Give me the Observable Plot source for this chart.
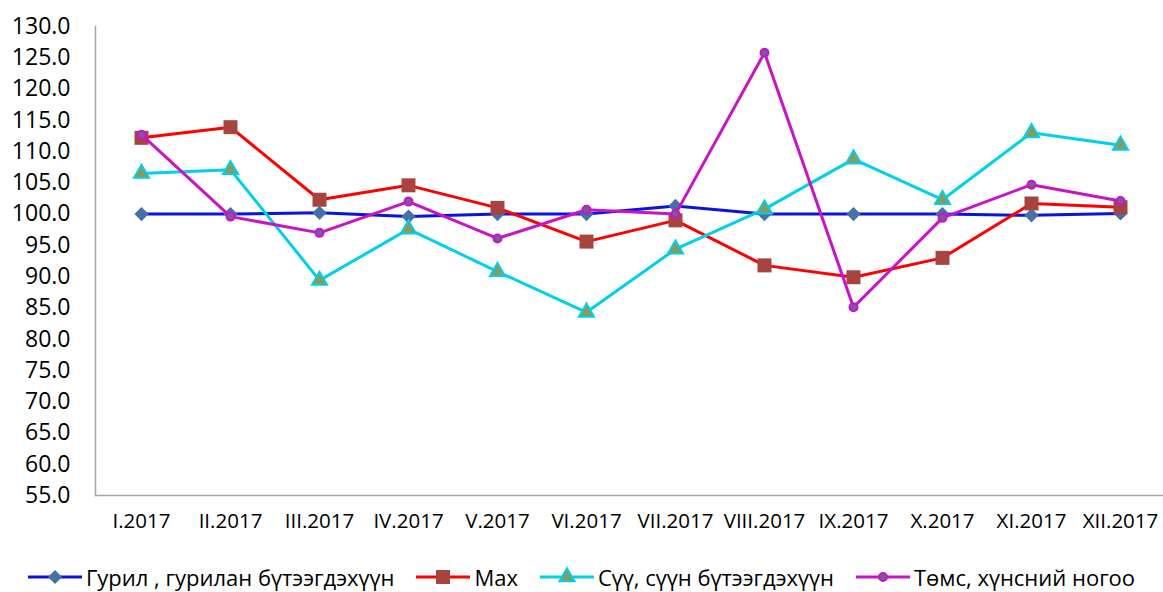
<!DOCTYPE html>
<html>
<head>
<meta charset="utf-8">
<script src="https://cdn.jsdelivr.net/npm/d3@7"></script>
<script src="https://cdn.jsdelivr.net/npm/@observablehq/plot@0.6"></script>
<style>
  body { margin: 0; background: #fff; font-family: "Open Sans", sans-serif; overflow: hidden; }
  #legend { display: flex; justify-content: center; align-items: center; margin-top: 17px; font-size: 22px; line-height: normal; color: #000; white-space: nowrap; }
  .item { display: flex; align-items: center; flex-shrink: 0; margin: 0 11px; }
  .item svg { margin-right: 4px; flex-shrink: 0; }
</style>
</head>
<body>
<div id="chart"></div>
<div id="legend"></div>
<script>
const months = ["I.2017","II.2017","III.2017","IV.2017","V.2017","VI.2017","VII.2017","VIII.2017","IX.2017","X.2017","XI.2017","XII.2017"];
const seriesNames = ["Гурил , гурилан бүтээгдэхүүн", "Мах", "Сүү, сүүн бүтээгдэхүүн", "Төмс, хүнсний ногоо"];
const flour = [100.0, 100.0, 100.2, 99.6, 100.0, 100.0, 101.3, 100.0, 100.0, 100.0, 99.8, 100.1];
const meat = [112.2, 113.9, 102.3, 104.6, 101.0, 95.6, 99.0, 91.8, 89.9, 93.0, 101.7, 101.1];
const milk = [106.5, 107.1, 89.4, 97.6, 90.8, 84.3, 94.4, 100.8, 108.8, 102.3, 113.0, 111.0];
const potato = [112.7, 99.6, 97.0, 102.0, 96.1, 100.7, 100.0, 125.8, 85.1, 99.4, 104.7, 102.1];
const yTicks = [55,60,65,70,75,80,85,90,95,100,105,110,115,120,125,130];

const styles = [
  {line: "#0a14dc", symbol: "diamond2", fill: "#4472a8", stroke: "none", r: 6.4, sw: 0},
  {line: "#ff0000", symbol: "square", fill: "#a8443f", stroke: "none", r: 7.9, sw: 0},
  {line: "#00d0ec", symbol: "triangle", fill: "#8a9a58", stroke: "#00d0ec", r: 5.6, sw: 2},
  {line: "#c814c8", symbol: "circle", fill: "#7a5a9a", stroke: "#c814c8", r: 4, sw: 2}
];
const allValues = [flour, meat, milk, potato];
const tables = allValues.map(vals => months.map((m, i) => ({month: m, value: vals[i]})));

const marks = [
  Plot.ruleY([55], {stroke: "#a6a6a6", strokeWidth: 1.5}),
  Plot.frame({anchor: "left", stroke: "#a6a6a6", strokeWidth: 1.5})
];
tables.forEach((t, k) => {
  const s = styles[k];
  marks.push(Plot.line(t, {x: "month", y: "value", stroke: s.line, strokeWidth: 3}));
  marks.push(Plot.dot(t, {x: "month", y: "value", symbol: () => s.symbol, fill: s.fill, stroke: s.stroke, strokeWidth: s.sw, r: s.r}));
});

const chart = Plot.plot({
  width: 1163,
  height: 545,
  marginTop: 26,
  marginBottom: 50,
  marginLeft: 95,
  marginRight: 0,
  style: {fontFamily: "Open Sans, sans-serif", color: "#000", background: "#fff"},
  x: {type: "point", domain: months, range: [140, 1120], padding: 0, label: null, tickSize: 0, tickPadding: 18},
  y: {domain: [55, 130], ticks: yTicks, tickFormat: d => d.toFixed(1), label: null, tickSize: 0, tickPadding: 25},
  symbol: {type: "identity"},
  marks: [
    ...marks,
    Plot.axisX({tickSize: 0, tickPadding: 18, fontSize: 20.5, label: null}),
    Plot.axisY({ticks: yTicks, tickFormat: d => d.toFixed(1), tickSize: 0, tickPadding: 25, fontSize: 23, label: null})
  ]
});
document.getElementById("chart").appendChild(chart);

const legend = document.getElementById("legend");
seriesNames.forEach((name, k) => {
  const s = styles[k];
  const item = document.createElement("div");
  item.className = "item";
  const w = 54, h = 22;
  const svg = d3.create("svg").attr("width", w).attr("height", h);
  svg.append("line").attr("x1", 0).attr("x2", w).attr("y1", h/2).attr("y2", h/2).attr("stroke", s.line).attr("stroke-width", 3);
  const symMap = {diamond2: d3.symbolDiamond2, square: d3.symbolSquare, triangle: d3.symbolTriangle, circle: d3.symbolCircle};
  svg.append("path").attr("d", d3.symbol(symMap[s.symbol], Math.PI * s.r * s.r)()).attr("transform", `translate(${w/2},${h/2})`)
    .attr("fill", s.fill).attr("stroke", s.stroke).attr("stroke-width", s.sw);
  item.appendChild(svg.node());
  const span = document.createElement("span");
  span.textContent = name;
  item.appendChild(span);
  legend.appendChild(item);
});
</script>
</body>
</html>
